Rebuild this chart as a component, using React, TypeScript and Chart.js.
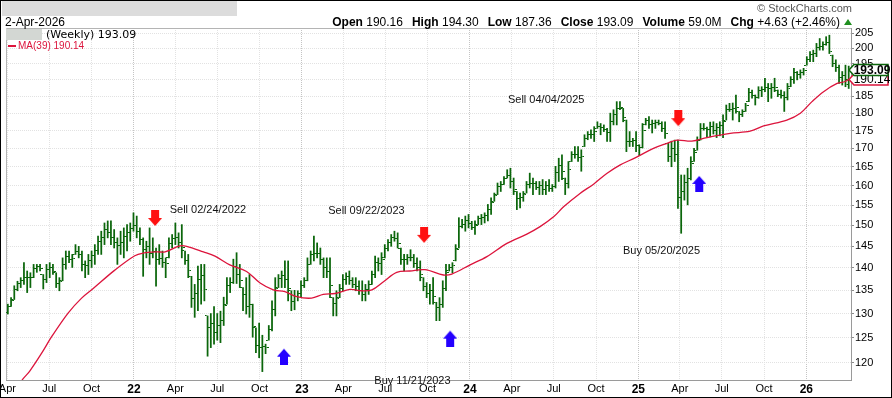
import React, { useEffect, useRef } from 'react';
import { Chart, registerables } from 'chart.js';

Chart.register(...registerables);

const FONT = 'Arial, "Liberation Sans", Helvetica, sans-serif';

// Weekly bars, first bar = week ending 2021-04-02
const firstBarDate = '2021-04-02';

const highs = [
  132.0,133.4,136.0,137.0,137.8,141.2,139.3,138.9,140.8,140.8,
  140.8,138.5,140.8,141.2,140.8,138.9,137.8,142.3,143.9,143.9,
  143.1,145.4,145.0,143.9,141.6,143.1,143.9,145.4,147.4,148.6,
  150.6,151.1,151.1,149.0,147.0,148.6,149.4,150.2,150.6,153.1,
  152.3,149.4,147.0,146.2,149.4,147.0,144.6,145.4,143.9,142.3,
  147.0,147.8,150.6,148.2,150.2,143.9,143.1,138.1,136.3,140.4,
  140.8,140.8,129.5,130.0,131.5,130.0,130.5,133.5,137.8,137.8,
  142.0,143.5,140.8,135.6,137.8,138.5,132.0,127.0,128.0,125.5,
  123.7,127.5,132.7,137.8,138.5,139.3,141.6,141.6,134.9,135.0,
  134.9,137.1,137.8,142.3,143.9,147.4,145.8,144.6,142.3,142.3,
  142.3,133.4,134.9,136.3,138.5,138.9,139.3,137.8,137.8,137.1,
  137.1,136.3,137.1,139.3,142.7,142.3,143.5,145.4,146.6,147.8,
  148.6,148.2,144.6,143.1,143.1,144.2,143.1,142.3,141.6,137.8,
  136.7,136.3,137.8,132.4,133.4,137.1,140.8,140.8,141.2,145.4,
  151.9,151.5,152.3,152.7,151.0,151.1,152.3,152.7,153.1,155.2,
  156.9,158.1,160.7,161.1,162.4,164.2,164.6,162.0,158.5,158.1,
  158.5,161.1,163.3,162.0,161.1,161.1,161.6,161.1,161.6,160.3,
  165.1,167.3,168.2,162.0,166.4,169.1,170.5,170.5,169.6,173.8,
  174.7,175.2,176.1,177.5,177.0,176.6,175.6,180.0,181.0,183.4,
  183.4,181.4,178.0,174.7,172.8,174.7,171.0,177.0,178.5,179.0,
  178.0,178.0,178.0,177.5,177.5,171.4,172.0,172.3,172.3,162.8,
  162.8,164.6,167.7,170.0,173.2,177.0,177.0,176.0,177.4,177.5,
  177.0,177.5,179.5,182.4,182.9,183.0,185.4,180.5,181.0,182.9,
  187.4,186.9,185.4,187.9,187.9,190.5,188.9,188.9,190.5,186.9,
  186.9,186.4,188.9,191.0,193.6,192.6,193.1,193.6,197.3,198.9,
  199.4,201.6,203.2,202.1,203.8,204.3,197.8,196.3,194.6,192.6,
  194.6,194.30,
];

const lows = [
  129.9,131.5,133.0,134.9,135.6,136.3,134.5,135.6,137.8,139.0,
  139.3,135.3,136.7,137.8,138.5,135.6,134.9,137.1,139.7,141.2,
  140.1,143.1,142.3,139.3,137.8,138.5,140.1,140.8,143.1,143.1,
  145.4,147.0,145.4,144.6,140.8,143.1,142.3,143.9,146.2,148.6,
  147.0,145.4,138.1,142.3,140.8,142.3,135.9,140.8,140.1,137.8,
  142.3,144.6,145.4,144.6,142.3,140.8,137.8,131.3,129.2,130.6,
  132.0,132.7,121.3,123.0,123.7,124.5,124.0,127.5,132.0,134.5,
  136.5,136.5,135.6,130.6,129.9,129.2,125.1,122.0,121.0,118.3,
  121.8,124.5,126.4,129.5,135.6,135.6,135.6,132.7,130.6,130.8,
  132.7,133.4,135.6,137.1,140.8,141.6,142.3,140.8,137.8,137.8,
  133.4,129.5,129.5,133.4,134.9,136.3,136.3,135.6,134.9,134.1,
  132.7,132.7,134.1,136.3,137.8,139.3,138.5,142.3,143.9,145.0,
  146.2,144.6,140.8,139.3,140.8,141.6,140.1,139.3,137.1,134.9,
  133.4,132.0,132.0,128.5,128.5,131.3,134.9,139.3,138.9,141.6,
  144.6,149.4,148.6,149.4,149.0,147.8,150.2,150.2,150.6,151.1,
  152.7,156.0,157.7,158.5,160.3,162.0,159.4,157.7,153.9,154.3,
  156.0,158.1,159.4,157.7,159.0,157.7,157.7,157.7,158.5,158.5,
  159.4,161.1,161.6,157.7,159.4,166.4,167.3,166.4,163.8,170.5,
  172.4,172.8,171.9,175.6,173.8,174.7,171.9,171.9,176.6,176.6,
  181.0,177.5,169.1,170.5,170.5,169.1,168.0,170.1,176.6,175.6,
  174.3,175.6,176.6,174.7,172.8,166.4,165.0,166.4,154.2,148.1,
  156.3,155.1,161.5,166.4,169.5,172.3,175.1,173.2,173.2,174.0,
  173.0,173.5,173.0,178.0,180.5,178.0,180.0,177.5,179.0,180.5,
  183.4,184.4,182.4,184.4,184.9,186.4,183.4,184.4,186.4,184.9,
  184.4,180.5,183.9,187.9,188.9,190.0,190.5,191.5,194.6,195.7,
  195.7,197.3,199.4,199.4,201.0,198.3,194.1,192.6,188.9,188.4,
  187.9,187.36,
];

const opens = [
  130.3,131.5,133.0,135.1,136.4,137.1,137.8,137.9,137.9,139.9,
  140.3,138.5,137.5,139.6,140.2,138.9,136.6,137.1,140.7,142.6,
  142.0,143.1,143.8,143.1,140.7,140.5,141.7,142.8,144.0,146.1,
  147.0,149.0,148.2,147.1,145.9,145.1,145.8,147.3,148.3,149.3,
  150.0,148.6,146.6,144.3,145.0,143.4,143.7,142.0,142.2,141.2,
  142.3,145.6,146.8,147.0,145.8,143.9,141.7,138.1,133.3,134.2,
  137.5,138.2,129.5,127.0,127.9,126.0,127.5,128.6,132.0,136.1,
  136.8,140.4,138.6,135.6,134.1,131.5,132.0,127.0,123.5,123.1,
  123.3,124.5,126.6,130.8,135.6,137.6,138.2,137.4,134.9,132.5,
  133.7,134.2,136.0,137.1,140.8,143.0,143.3,143.4,141.9,140.0,
  139.2,133.4,132.2,133.4,135.4,137.4,138.1,137.2,136.3,135.8,
  135.0,134.0,135.2,136.3,138.4,141.2,140.9,142.3,144.5,145.8,
  147.0,146.9,144.6,141.9,142.0,142.4,142.4,141.0,140.2,137.8,
  135.8,134.4,135.0,132.4,131.2,131.9,135.4,139.3,140.1,141.6,
  144.6,149.7,150.3,151.2,150.4,149.6,150.2,151.7,152.0,152.4,
  154.0,156.0,157.7,159.8,160.3,162.0,162.7,161.0,158.5,156.6,
  157.0,158.1,160.2,160.6,160.7,159.6,160.1,158.9,160.1,159.4,
  159.8,163.4,165.4,162.0,160.7,166.4,168.3,168.3,167.6,170.5,
  172.8,174.0,174.0,175.6,176.2,176.0,175.3,174.5,177.6,179.7,
  181.4,181.4,178.0,171.8,171.8,172.1,170.8,170.1,176.6,177.9,
  176.6,176.9,177.3,177.0,175.5,171.4,167.9,169.9,168.2,157.0,
  158.4,160.9,161.8,166.4,169.5,172.3,175.6,175.7,175.2,176.1,
  175.1,175.8,176.3,178.0,181.1,181.2,181.5,180.5,179.6,180.5,
  183.4,186.2,185.2,184.5,186.9,187.0,187.6,187.3,187.6,186.9,
  185.5,185.2,184.6,187.9,190.1,192.2,191.8,192.3,194.6,196.5,
  197.9,198.3,200.3,200.5,201.3,201.8,197.8,195.2,193.7,190.6,
  191.3,190.16,
];

const closes = [
  131.4,132.8,135.1,136.4,137.1,137.8,137.9,137.9,139.9,140.3,
  139.8,137.5,139.6,140.2,139.2,136.6,136.9,140.7,142.6,142.0,
  142.2,143.8,143.1,140.7,140.5,141.7,142.8,144.0,146.1,147.0,
  149.0,148.2,147.1,145.9,145.1,145.8,147.3,148.3,149.3,150.0,
  148.6,146.6,144.3,145.0,143.4,143.7,142.0,142.2,141.2,141.0,
  145.6,146.8,147.0,145.8,144.7,141.7,139.4,133.3,134.2,137.5,
  138.2,135.1,127.0,127.9,126.0,127.5,128.6,131.7,136.1,136.8,
  140.4,138.6,137.2,134.1,131.5,132.0,127.2,123.5,123.1,123.3,
  123.1,126.6,130.8,135.3,137.6,138.2,137.4,135.4,132.5,133.7,
  134.2,136.0,137.1,140.7,143.0,143.3,143.4,141.9,140.0,139.2,
  136.1,132.2,133.3,135.4,137.4,138.1,137.2,136.3,135.8,135.0,
  134.0,135.2,136.2,138.4,141.2,140.9,142.0,144.5,145.8,147.0,
  146.9,145.7,141.9,142.0,142.4,142.4,141.0,140.2,138.5,135.8,
  134.4,135.0,133.7,131.2,131.9,135.4,139.0,140.1,140.5,144.3,
  149.7,150.3,151.2,150.4,149.6,150.1,151.7,152.0,152.4,154.0,
  155.6,157.5,159.8,160.3,161.8,162.7,161.0,159.0,156.6,157.0,
  157.8,160.2,160.6,160.7,159.6,160.1,158.9,160.1,159.4,159.8,
  163.4,165.4,163.6,160.7,164.3,168.3,168.3,167.6,167.9,172.8,
  174.0,174.0,174.8,176.2,176.0,175.3,174.5,177.6,179.7,181.4,
  181.7,178.7,171.8,171.8,172.1,170.8,170.1,174.9,177.9,176.6,
  176.9,177.3,177.0,175.5,174.2,167.9,169.9,168.2,157.0,158.4,
  160.9,161.8,165.8,168.9,172.1,175.6,175.7,175.2,176.1,175.1,
  175.8,176.3,177.6,181.1,181.2,181.5,181.6,179.6,180.4,182.2,
  186.2,185.2,184.5,186.9,187.0,187.6,187.3,187.6,187.6,185.5,
  185.2,184.6,187.4,190.1,192.2,191.8,192.3,193.0,196.5,197.9,
  198.3,200.3,200.5,201.3,201.8,198.9,195.2,193.7,190.6,191.3,
  188.46,193.09,
];

// MA(39) (week index, value)
const maWeeks = [0,4.7,6.8,10.5,13.6,18.7,22.9,26.5,33.2,39.4,42.0,46.2,48.8,53.4,55.5,60.7,64.3,68.9,74.1,78.3,82.4,86.0,89.7,94.3,97.9,101.6,106.2,109.8,113.0,116.6,120.7,124.8,129.5,135.2,137.8,143.5,148.7,154.9,161.1,165.2,169.4,172.5,177.6,181.8,185.9,190.1,194.7,200.4,204.6,207.7,212.3,217.0,224.2,230.4,234.6,241.8,246.0,249.6,253.2,257.4,259.9,261];
const maValues = [112.8,116.9,118.4,121.9,125.2,130.1,133.3,135.4,139.5,142.8,143.4,143.7,143.7,145.1,145.0,143.7,142.7,140.7,139.2,136.6,135.1,134.7,133.6,133.3,134.1,134.3,135.2,134.9,135.1,136.9,139.0,139.3,139.6,138.4,138.6,140.7,142.6,145.7,147.9,149.7,152.1,154.6,158.0,160.4,163.2,165.5,167.4,170.0,171.4,172.3,172.0,173.0,174.2,174.8,176.3,178.0,180.0,183.4,186.4,188.9,189.5,190.14];

const quarterDates = ['2021-04-01','2021-07-01','2021-10-01','2022-01-01','2022-04-01','2022-07-01','2022-10-01','2023-01-01','2023-04-01','2023-07-01','2023-10-01','2024-01-01','2024-04-01','2024-07-01','2024-10-01','2025-01-01','2025-04-01','2025-07-01','2025-10-01','2026-01-01'];
const quarterLabels = ['Apr','Jul','Oct','22','Apr','Jul','Oct','23','Apr','Jul','Oct','24','Apr','Jul','Oct','25','Apr','Jul','Oct','26'];
const xRangeDates = ['2021-03-29', '2026-04-08'];

const yTicks = [120,125,130,135,140,145,150,155,160,165,170,175,180,185,190,195,200,205];
const yRange = [116.7, 206.7];

const sellWeeks = [45.7, 129.2, 208.1];
const sellPrices = [151.7, 147.6, 178.4];
const buyWeeks = [85.7, 137.3, 214.6];
const buyPrices = [121.3, 124.9, 160.6];

const noteTexts = ['Sell 02/24/2022', 'Sell 09/22/2023', 'Buy 11/21/2023', 'Sell 04/04/2025', 'Buy 05/20/2025'];
const noteWeeks = [62.1, 111.3, 125.6, 167.1, 202.9];
const notePrices = [153.8, 153.6, 116.5, 183.9, 143.9];

const lastClose = 193.09;
const lastMA = 190.14;

const statLabels = ['Open', 'High', 'Low', 'Close', 'Volume', 'Chg'];
const statValues = ['190.16', '194.30', '187.36', '193.09', '59.0M', '+4.63 (+2.46%)'];

const BAR_GREEN = '#0b660b';
const MA_RED = '#dc143c';

function tickImage(left: boolean) {
  const c = document.createElement('canvas');
  c.width = 6; c.height = 1;
  const g = c.getContext('2d')!;
  g.fillStyle = BAR_GREEN;
  g.fillRect(left ? 0 : 4, 0, 2, 1);
  return c;
}

function arrowImage(color: string, down: boolean) {
  const c = document.createElement('canvas');
  c.width = 14; c.height = 17;
  const g = c.getContext('2d')!;
  g.fillStyle = color;
  if (down) {
    g.fillRect(3, 0, 8, 8);
    g.beginPath(); g.moveTo(0, 8); g.lineTo(14, 8); g.lineTo(7, 16); g.closePath(); g.fill();
  } else {
    g.fillRect(3, 9, 8, 8);
    g.beginPath(); g.moveTo(0, 9); g.lineTo(14, 9); g.lineTo(7, 1); g.closePath(); g.fill();
  }
  return c;
}

function drawTag(ctx: CanvasRenderingContext2D, xTip: number, y: number, color: string, text: string, bold: boolean) {
  const h = 11, x0 = xTip + 5, x1 = 888;
  ctx.beginPath();
  ctx.moveTo(xTip, y);
  ctx.lineTo(x0, y - h / 2);
  ctx.lineTo(x1, y - h / 2);
  ctx.lineTo(x1, y + h / 2);
  ctx.lineTo(x0, y + h / 2);
  ctx.closePath();
  ctx.fillStyle = '#fff';
  ctx.fill();
  ctx.strokeStyle = color;
  ctx.lineWidth = 1.5;
  ctx.stroke();
  ctx.fillStyle = '#000';
  ctx.font = (bold ? 'bold ' : '') + '12px ' + FONT;
  ctx.textAlign = 'center';
  ctx.textBaseline = 'middle';
  ctx.fillText(text, (x0 + x1) / 2 + 1, y + 0.5);
}

const overlayPlugin = {
  id: 'overlay',
  beforeDatasetsDraw(chart: any) {
    const { ctx, chartArea: a } = chart;
    ctx.save();
    ctx.strokeStyle = '#b4b4b4';
    ctx.lineWidth = 1;
    ctx.beginPath();
    ctx.moveTo(a.left + 0.5, a.bottom);
    ctx.lineTo(a.left + 0.5, a.top + 0.5);
    ctx.lineTo(a.right, a.top + 0.5);
    ctx.stroke();
    ctx.restore();
  },
  afterDraw(chart: any) {
    const { ctx, chartArea: a } = chart;
    const xs = chart.scales.x, ys = chart.scales.y;
    ctx.save();
    ctx.font = '11px ' + FONT;
    ctx.fillStyle = '#111';
    ctx.textAlign = 'center';
    ctx.textBaseline = 'middle';
    noteTexts.forEach((t, k) => {
      ctx.fillText(t, xs.getPixelForValue(noteWeeks[k]), ys.getPixelForValue(notePrices[k]));
    });
    drawTag(ctx, a.right - 2, ys.getPixelForValue(lastMA), MA_RED, lastMA.toFixed(2), false);
    drawTag(ctx, a.right - 2, ys.getPixelForValue(lastClose), BAR_GREEN, lastClose.toFixed(2), true);
    ctx.strokeStyle = '#000';
    ctx.lineWidth = 1;
    ctx.strokeRect(0.5, 0.5, chart.width - 1, chart.height - 1);
    ctx.restore();
  },
};

export default function App() {
  const ref = useRef<HTMLCanvasElement>(null);

  useEffect(() => {
    const canvas = ref.current!;
    const weekOf = (d: string) =>
      (Date.parse(d + 'T00:00:00Z') - Date.parse(firstBarDate + 'T00:00:00Z')) / (7 * 864e5);
    const tickWeeks = quarterDates.map(weekOf);
    const idx = highs.map((_, i) => i);

    const chart = new Chart(canvas, {
      type: 'bar',
      data: {
        datasets: [
          {
            type: 'scatter',
            data: sellWeeks.map((w, k) => ({ x: w, y: sellPrices[k] })),
            pointStyle: arrowImage('#ff1010', true) as any,
            pointRadius: 1,
            order: 0,
          } as any,
          {
            type: 'scatter',
            data: buyWeeks.map((w, k) => ({ x: w, y: buyPrices[k] })),
            pointStyle: arrowImage('#2400ff', false) as any,
            pointRadius: 1,
            order: 0,
          } as any,
          {
            type: 'line',
            data: maWeeks.map((w, k) => ({ x: w, y: maValues[k] })),
            borderColor: MA_RED,
            borderWidth: 1.3,
            pointRadius: 0,
            tension: 0.35,
            fill: false,
            order: 1,
          } as any,
          {
            type: 'scatter',
            data: idx.map((i) => ({ x: i, y: opens[i] })),
            pointStyle: tickImage(true) as any,
            pointRadius: 1,
            order: 2,
          } as any,
          {
            type: 'scatter',
            data: idx.map((i) => ({ x: i, y: closes[i] })),
            pointStyle: tickImage(false) as any,
            pointRadius: 1,
            order: 2,
          } as any,
          {
            type: 'bar',
            data: idx.map((i) => ({ x: i, y: [lows[i], highs[i]] })),
            backgroundColor: BAR_GREEN,
            borderWidth: 0,
            barThickness: 1.1,
            order: 3,
          } as any,
        ],
      },
      options: {
        responsive: false,
        animation: false,
        devicePixelRatio: 1,
        events: [],
        layout: { padding: { left: 6, top: 28, right: 0, bottom: 0 } },
        plugins: { legend: { display: false }, tooltip: { enabled: false }, title: { display: false } },
        scales: {
          x: {
            type: 'linear',
            min: weekOf(xRangeDates[0]),
            max: weekOf(xRangeDates[1]),
            offset: false,
            afterBuildTicks: (s: any) => {
              s.ticks = tickWeeks.map((v, k) => ({ value: v, major: quarterLabels[k].length === 2 }));
            },
            afterFit: (s: any) => { s.height = 18; s.paddingLeft = 0; s.paddingRight = 0; },
            ticks: {
              autoSkip: false,
              maxRotation: 0,
              padding: 2,
              color: '#000',
              callback: (_v: any, i: number) => quarterLabels[i],
              font: (c: any) => ({
                family: FONT,
                size: c.tick && c.tick.major ? 12 : 11,
                weight: c.tick && c.tick.major ? 'bold' : 'normal',
              }),
            },
            grid: {
              color: (c: any) => (c.tick && c.tick.major ? '#c4c4c4' : '#e2e2e2'),
              drawTicks: false,
              offset: false,
            },
            border: { display: true, color: '#9a9a9a', dash: [1, 1] },
          } as any,
          y: {
            type: 'logarithmic',
            position: 'right',
            min: yRange[0],
            max: yRange[1],
            afterBuildTicks: (s: any) => { s.ticks = yTicks.map((v) => ({ value: v })); },
            afterFit: (s: any) => { s.width = 41; },
            ticks: {
              autoSkip: false,
              padding: 1,
              color: '#000',
              font: { family: FONT, size: 11 },
              callback: (v: any) => String(v),
            },
            grid: { color: '#e2e2e2', tickLength: 3, tickColor: '#8c8c8c' },
            border: { display: true, color: '#9a9a9a', dash: [1, 1] },
          } as any,
        },
      },
      plugins: [overlayPlugin as any],
    });
    return () => chart.destroy();
  }, []);

  const abs = (o: any) => ({ position: 'absolute', whiteSpace: 'nowrap', ...o });

  return (
    <div style={{ position: 'fixed', left: 0, top: 0, width: 892, height: 398, background: '#fff', fontFamily: FONT }}>
      <canvas ref={ref} width={892} height={398} style={{ display: 'block', width: 892, height: 398 }} />
      <div style={abs({ left: 2, top: 1, width: 235, height: 15, background: '#dcdcdc' })} />
      <div style={abs({ right: 40, top: 2, fontSize: 11, lineHeight: '13px', color: '#555' })}>© StockCharts.com</div>
      <div style={abs({ left: 5, top: 15, fontSize: 12, lineHeight: '14px', color: '#000' })}>2-Apr-2026</div>
      <div style={abs({ right: 40, top: 15, fontSize: 12, lineHeight: '14px', color: '#000', display: 'flex', alignItems: 'center' })}>
        {statLabels.map((l, k) => (
          <span key={l} style={{ marginLeft: k === 0 ? 0 : 9 }}>
            <b>{l}</b> {statValues[k]}
          </span>
        ))}
        <span style={{ display: 'inline-block', width: 0, height: 0, marginLeft: 4, borderLeft: '4px solid transparent', borderRight: '4px solid transparent', borderBottom: '6px solid #1f8f1f' }} />
      </div>
      <div style={abs({ left: 6, top: 29, width: 36, height: 11, background: '#d3d7d3' })} />
      <div style={abs({ left: 46, top: 28, fontFamily: '"DejaVu Sans", sans-serif', fontSize: 11, lineHeight: '13px', color: '#000' })}>(Weekly) {lastClose.toFixed(2)}</div>
      <div style={abs({ left: 8, top: 45, width: 8, height: 2, background: MA_RED })} />
      <div style={abs({ left: 18, top: 40, fontSize: 10, lineHeight: '12px', color: MA_RED })}>MA(39) {lastMA.toFixed(2)}</div>
    </div>
  );
}
